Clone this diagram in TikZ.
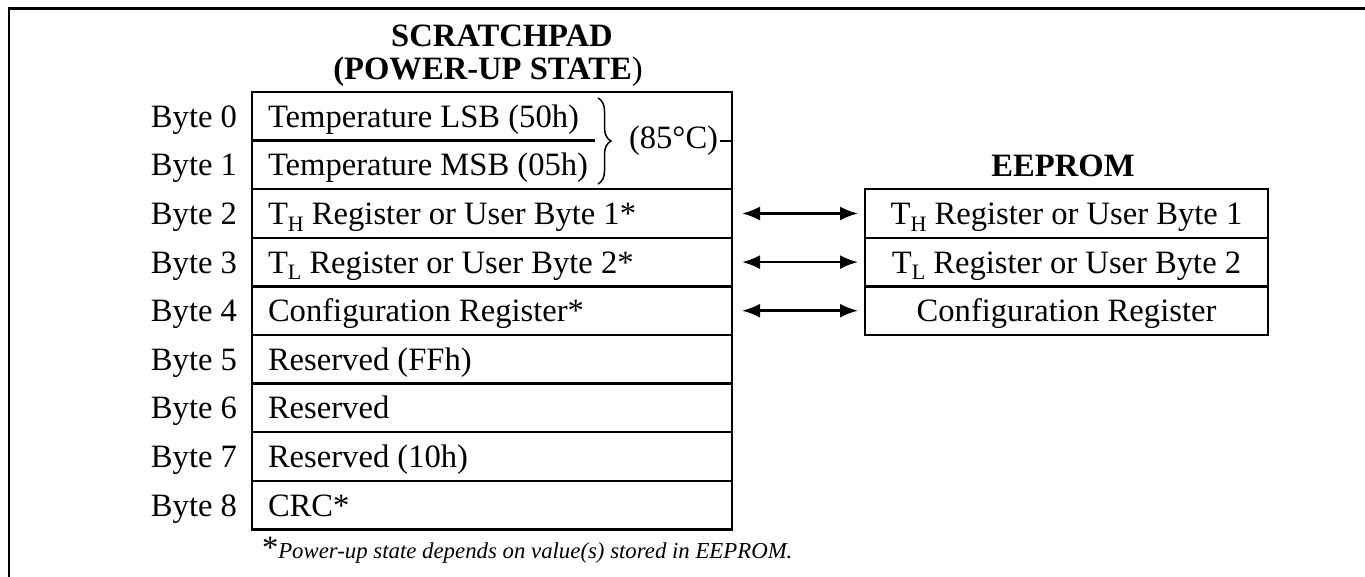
\documentclass[tikz,border=0pt]{standalone}
\usepackage{fontspec}
\setmainfont{Liberation Serif}
\usetikzlibrary{decorations.pathreplacing,arrows.meta}
\newcommand\subsc[1]{\raisebox{-0.2em}{\fontsize{11}{11}\selectfont #1}}
\begin{document}
\begin{tikzpicture}[x=0.5pt,y=-0.5pt,
  every node/.style={font=\fontsize{16.3}{19}\selectfont, outer sep=0pt},
  boxline/.style={line width=1.15pt},
  srow/.style={boxline, minimum height=24.3pt, inner xsep=8pt, inner ysep=0pt,
    text width=224pt, align=flush left, text height=14pt, text depth=3pt, anchor=north west},
  srowd/.style={srow, draw},
  erow/.style={boxline, draw, minimum width=201.5pt, minimum height=24.3pt,
    inner sep=0pt, align=center, text height=14pt, text depth=3pt, anchor=north west},
  blab/.style={anchor=east, inner sep=0pt, text height=14pt, text depth=3pt},
  dblarrow/.style={line width=1.2pt, {Latex[length=9pt,width=7pt]}-{Latex[length=9pt,width=7pt]},
    shorten <=5pt, shorten >=3.5pt},
  ttl/.style={anchor=base, inner sep=0pt, font=\fontsize{16.3}{19}\selectfont\bfseries}]
\useasboundingbox (0,0) rectangle (1365,577);
% frame
\draw[boxline] (1365,8.5) -- (9,8.5) -- (9,577);
% titles
\node[ttl] (t1) at (502,47) {SCRATCHPAD};
\node[ttl] (t2) at (488,80) {(POWER-UP STATE\mdseries)};
\node[ttl] (t3) at (1063,177) {EEPROM};
% scratchpad rows
\node[srow] (s0) at (252,92) {Temperature LSB (50h)};
\node[srow] (s1) at (s0.south west) {Temperature MSB (05h)};
\node[srowd] (s2) at (s1.south west) {T\subsc{H} Register or User Byte 1*};
\node[srowd] (s3) at (s2.south west) {T\subsc{L} Register or User Byte 2*};
\node[srowd] (s4) at (s3.south west) {Configuration Register*};
\node[srowd] (s5) at (s4.south west) {Reserved (FFh)};
\node[srowd] (s6) at (s5.south west) {Reserved};
\node[srowd] (s7) at (s6.south west) {Reserved (10h)};
\node[srowd] (s8) at (s7.south west) {CRC*};
\draw[boxline] (s0.north west) rectangle (s1.south east);
\draw[boxline] (s0.south west) -- ++(343,0);
% byte labels
\foreach \i in {0,...,8}
  \node[blab] (b\i) at ([xshift=-7.5pt]s\i.west) {Byte \i};
% brace
\draw[decorate, decoration={brace, amplitude=6.5pt}, line width=0.75pt] (598,98) -- (598,184);
\node[anchor=west, inner sep=0pt] (c85) at (629,141) {(85°C)};
\draw[line width=0.9pt] ([xshift=1pt]c85.east) -- (c85.east -| s0.east);
% EEPROM rows
\node[erow] (e2) at (865,189.2) {T\subsc{H} Register or User Byte 1};
\node[erow] (e3) at (e2.south west) {T\subsc{L} Register or User Byte 2};
\node[erow] (e4) at (e3.south west) {Configuration Register};
% arrows
\draw[dblarrow] (s2.east) -- (s2.east -| e2.west);
\draw[dblarrow] (s3.east) -- (s3.east -| e3.west);
\draw[dblarrow] (s4.east) -- (s4.east -| e4.west);
% footnote
\node[anchor=base west, inner sep=0pt] (fn) at (262,558)
  {\fontsize{16.3}{19}\selectfont *\fontsize{11.4}{13}\selectfont\itshape Power-up state depends on value(s) stored in EEPROM.};
\end{tikzpicture}
\end{document}
